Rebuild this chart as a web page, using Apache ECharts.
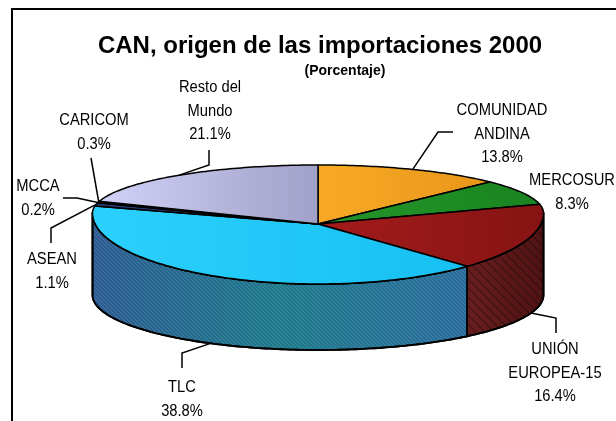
<!DOCTYPE html>
<html>
<head>
<meta charset="utf-8">
<script src="https://cdn.jsdelivr.net/npm/echarts@6/dist/echarts.min.js"></script>
<style>
  html, body { margin: 0; padding: 0; background: #fff; }
  #chart { width: 616px; height: 421px; }
</style>
</head>
<body>
<div id="chart"></div>
<script>
// 数据
const regions = ['COMUNIDAD\nANDINA', 'MERCOSUR', 'UNIÓN\nEUROPEA-15', 'TLC', 'ASEAN', 'MCCA', 'CARICOM', 'Resto del\nMundo']
const shares = [13.8, 8.3, 16.4, 38.8, 1.1, 0.2, 0.3, 21.1]

// 颜色
const topColors = [
  ['#F8AA26', '#E8961A'], ['#24962A', '#1A8420'], ['#A41C1C', '#861313'], ['#2CD0FC', '#16C0F2'],
  ['#2B3A6E', '#2B3A6E'], ['#4A2A4A', '#4A2A4A'], ['#2A2A2A', '#2A2A2A'], ['#D2D2F8', '#A0A0C8']
]
const sideColors = {
  2: ['#6A1F1F', '#4E1212'],
  3: ['#2C5C92', '#1E7A8C', '#2A6C9C']
}

// 标签位置（第一行中心）与引线折点
const labelPos = [[502, 111], [572, 181], [555, 350], [182, 388], [52, 260], [38, 187], [94, 121], [210, 88]]
const leaderPts = [
  [[438, 132], [453, 132]], [], [[556, 318], [556, 333]], [[182, 353], [182, 368]],
  [[51, 228], [51, 243]], [[77, 198], [63, 198]], [[91, 158]], [[209, 165], [209, 150]]
]

// 饼的几何参数
const CX = 318, AY = 224
const RX = 225.5
const TOP_Y = 213, TOP_BACK = 48, TOP_FRONT = 71
const BOT_Y = 295, BOT_FRONT = 55
const LINE_H = 23.5

const starts = []
shares.reduce((acc, v, i) => { starts[i] = acc; return acc + v }, 0)

const rim = (t, cy, back, front) => {
  const c = Math.cos(t)
  return [CX + RX * Math.sin(t), cy - (c > 0 ? back : front) * c]
}
const topPt = t => rim(t, TOP_Y, TOP_BACK, TOP_FRONT)
const botPt = t => rim(t, BOT_Y, TOP_BACK, BOT_FRONT)

const arc = (a0, a1, fn) => {
  const n = Math.max(2, Math.ceil((a1 - a0) / (Math.PI / 180)))
  const pts = []
  for (let k = 0; k <= n; k++) pts.push(fn(a0 + (a1 - a0) * k / n))
  return pts
}

// 斜线纹理
const makeHatch = (color, gap, width) => {
  const c = document.createElement('canvas')
  c.width = gap; c.height = gap
  const ctx = c.getContext('2d')
  ctx.strokeStyle = color
  ctx.lineWidth = width
  ctx.beginPath()
  ctx.moveTo(-1, -1); ctx.lineTo(gap + 1, gap + 1)
  ctx.moveTo(-1, gap - 1); ctx.lineTo(1, gap + 1)
  ctx.moveTo(gap - 1, -1); ctx.lineTo(gap + 1, 1)
  ctx.stroke()
  return { image: c, repeat: 'repeat' }
}
const hatches = {
  2: makeHatch('rgba(0,0,0,0.35)', 9, 1.2),
  3: makeHatch('rgba(255,255,255,0.12)', 4, 1)
}

const grad = cols => new echarts.graphic.LinearGradient(0, 0, 1, 0,
  cols.map((c, k) => ({ offset: k / (cols.length - 1), color: c })))

const renderSlice = (params, api) => {
  const i = params.dataIndex
  const a0 = starts[i] / 100 * Math.PI * 2
  const a1 = (starts[i] + api.value(1)) / 100 * Math.PI * 2
  const children = []

  // 侧面（只画前半部分）
  const s0 = Math.max(a0, Math.PI / 2), s1 = Math.min(a1, Math.PI * 1.5)
  if (s1 > s0 && sideColors[i]) {
    const pts = arc(s0, s1, topPt).concat(arc(s0, s1, botPt).reverse())
    children.push({ type: 'polygon', shape: { points: pts },
      style: { fill: grad(sideColors[i]), stroke: '#000', lineWidth: 1.8, lineJoin: 'round' } })
    children.push({ type: 'polygon', shape: { points: pts }, silent: true,
      style: { fill: hatches[i], stroke: '#000', lineWidth: 1.8, lineJoin: 'round' } })
  }

  // 顶面
  const topPts = [[CX, AY]].concat(arc(a0, a1, topPt))
  children.push({ type: 'polygon', shape: { points: topPts },
    style: { fill: grad(topColors[i]), stroke: '#000', lineWidth: 1.5, lineJoin: 'round' } })

  // 引线
  if (leaderPts[i].length) {
    const m = (a0 + a1) / 2
    const p0 = Math.cos(m) < 0 ? botPt(m) : topPt(m)
    children.push({ type: 'polyline', z2: 10, shape: { points: [p0].concat(leaderPts[i]) },
      style: { stroke: '#000', lineWidth: 1.5, fill: null } })
  }

  // 标签
  children.push({ type: 'text', z2: 20,
    x: labelPos[i][0], y: labelPos[i][1] - LINE_H / 2, scaleX: 0.92,
    style: {
      text: regions[i] + '\n' + api.value(1).toFixed(1) + '%',
      x: 0, y: 0,
      align: 'center', verticalAlign: 'top',
      font: '16px "Liberation Sans", Arial, sans-serif',
      lineHeight: LINE_H, fill: '#000'
    } })

  return { type: 'group', children }
}

const chart = echarts.init(document.getElementById('chart'))
chart.setOption({
  animation: false,
  title: [
    { text: 'CAN, origen de las importaciones 2000', left: 315, top: 29, textAlign: 'center',
      textStyle: { fontFamily: 'Liberation Sans', fontWeight: 'bold', fontSize: 24, color: '#000' } },
    { text: '(Porcentaje)', left: 340, top: 59, textAlign: 'center',
      textStyle: { fontFamily: 'Liberation Sans', fontWeight: 'bold', fontSize: 14, color: '#000' } }
  ],
  graphic: [
    { type: 'rect', shape: { x: 12, y: 9, width: 700, height: 500 },
      style: { fill: null, stroke: '#000', lineWidth: 2 } }
  ],
  series: [{
    type: 'custom',
    coordinateSystem: 'none',
    renderItem: renderSlice,
    data: shares.map((v, i) => [i, v])
  }]
})
</script>
</body>
</html>
